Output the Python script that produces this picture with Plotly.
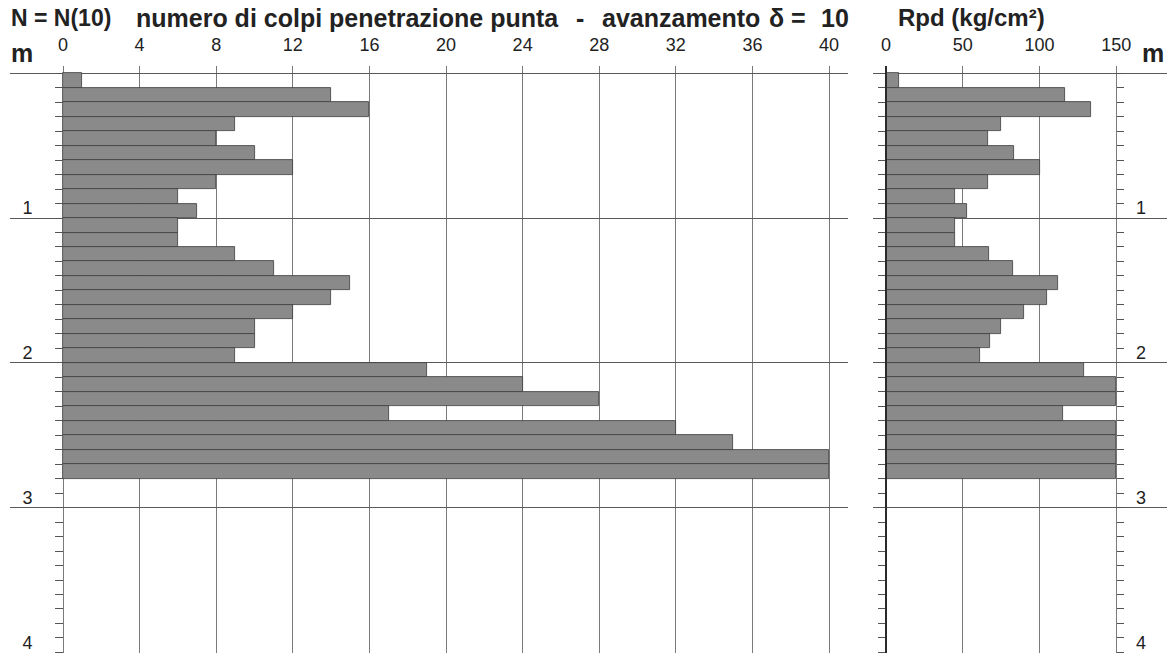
import plotly.graph_objects as go

# ---- data ----
depth_top = [0.0, 0.1, 0.2, 0.3, 0.4, 0.5, 0.6, 0.7, 0.8, 0.9,
             1.0, 1.1, 1.2, 1.3, 1.4, 1.5, 1.6, 1.7, 1.8, 1.9,
             2.0, 2.1, 2.2, 2.3, 2.4, 2.5, 2.6, 2.7]
n_blows = [1, 14, 16, 9, 8, 10, 12, 8, 6, 7,
           6, 6, 9, 11, 15, 14, 12, 10, 10, 9,
           19, 24, 28, 17, 32, 35, 40, 40]
rpd = [8.5, 116.8, 133.3, 75.0, 66.7, 83.3, 100.0, 66.7, 45.0, 52.5,
       45.0, 45.0, 67.3, 82.4, 112.3, 104.7, 89.8, 74.7, 67.9, 61.2,
       128.8, 150.0, 150.0, 115.3, 150.0, 150.0, 150.0, 150.0]

n_ticks = [0, 4, 8, 12, 16, 20, 24, 28, 32, 36, 40]
rpd_ticks = [0, 50, 100, 150]
depth_ticks = [0, 1, 2, 3, 4]
depth_labels = ["", "1", "2", "3", "4"]

W, H = 1170, 653
TOP = 66
FONT = "Liberation Sans, Arial, Helvetica, sans-serif"
BAR = "#8a8a8a"
EDGE = "#3c3c3c"
GRID = "#7a7a7a"
TXT = "#222222"

def px(p):
    return p / W

def py(p):
    return (H - p) / (H - TOP)

fig = go.Figure()
fig.add_trace(go.Bar(x=n_blows, y=depth_top, orientation="h", width=0.1, offset=0,
                     marker=dict(color=BAR, line=dict(color=EDGE, width=0.8)),
                     xaxis="x", yaxis="y", showlegend=False, hoverinfo="x+y"))
fig.add_trace(go.Bar(x=rpd, y=depth_top, orientation="h", width=0.1, offset=0,
                     marker=dict(color=BAR, line=dict(color=EDGE, width=0.8)),
                     xaxis="x2", yaxis="y2", showlegend=False, hoverinfo="x+y"))
fig.add_trace(go.Scatter(x=[None], y=[None], xaxis="x2", yaxis="y3",
                         showlegend=False, hoverinfo="skip"))

yr = [4.004, -0.05]
common_y = dict(range=yr, tickvals=depth_ticks, ticktext=depth_labels,
                zeroline=False, automargin=False,
                tickfont=dict(family=FONT, size=18, color=TXT))

fig.update_layout(
    width=W, height=H,
    margin=dict(l=0, r=0, t=TOP, b=0, pad=0, autoexpand=False),
    paper_bgcolor="white", plot_bgcolor="white",
    bargap=0,
    xaxis=dict(domain=[px(10), px(848)], range=[-2.768, 40.99], side="top",
               anchor="y", tickvals=n_ticks, showgrid=True, gridcolor=GRID,
               gridwidth=1, zeroline=False, showline=False, ticks="",
               ticklabelstandoff=10, automargin=False,
               tickfont=dict(family=FONT, size=18, color=TXT)),
    xaxis2=dict(domain=[px(873), px(1167)], range=[-8.47, 183.0], side="top",
                anchor="y2", tickvals=rpd_ticks, showgrid=True, gridcolor=GRID,
                gridwidth=1, zeroline=False, showline=False, ticks="",
                ticklabelstandoff=10, automargin=False,
                tickfont=dict(family=FONT, size=18, color=TXT)),
    yaxis=dict(**common_y, anchor="free", position=px(63), side="left",
               showgrid=True, gridcolor="#5a5a5a", gridwidth=1,
               ticks="outside", ticklen=8, tickcolor="#555",
               minor=dict(dtick=0.1, ticks="outside", ticklen=8, tickcolor="#555",
                          showgrid=False),
               ticklabelstandoff=19, ticklabelshift=10, showline=False),
    yaxis2=dict(range=yr, tickvals=depth_ticks, anchor="free", position=px(886),
                side="left", showgrid=True, gridcolor="#5a5a5a", gridwidth=1,
                zeroline=False, showticklabels=False, automargin=False,
                ticks="outside", ticklen=7, tickcolor="#555",
                minor=dict(dtick=0.1, ticks="outside", ticklen=7, tickcolor="#555",
                           showgrid=False),
                showline=True, linecolor="#2a2a2a", linewidth=2),
    yaxis3=dict(**common_y, overlaying="y2", anchor="free", position=px(1116.3),
                side="right", showgrid=False,
                ticks="outside", ticklen=7, tickcolor="#555",
                minor=dict(dtick=0.1, ticks="outside", ticklen=7, tickcolor="#555",
                           showgrid=False),
                ticklabelstandoff=8, ticklabelshift=10, showline=False),
)

def ann(text, x, y, size=25, xanchor="left", bold=True):
    fig.add_annotation(text=("<b>%s</b>" % text) if bold else text,
                       x=px(x), y=py(y), xref="paper", yref="paper",
                       xanchor=xanchor, yanchor="middle", align=xanchor if xanchor != "center" else "center",
                       showarrow=False,
                       font=dict(family=FONT, size=size, color=TXT))

ann("N = N(10)", 9, 18, size=23)
ann("numero di colpi penetrazione punta", 134, 18)
ann("-", 580, 18, xanchor="center")
ann("avanzamento", 600, 18)
ann("δ =", 767, 18)
ann("10", 819, 18)
ann("Rpd (kg/cm²)", 896, 18, size=24)
ann("m", 9, 53)
ann("m", 1140, 53)

fig.write_html("out.html", config={"displayModeBar": False},
               post_script="document.body.style.margin='0px';document.body.style.overflow='hidden';")
